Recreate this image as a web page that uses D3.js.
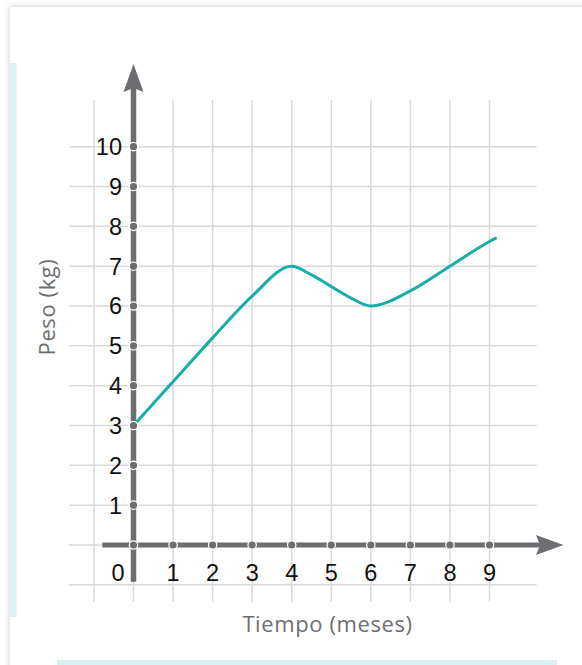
<!DOCTYPE html>
<html>
<head>
<meta charset="utf-8">
<script src="https://cdn.jsdelivr.net/npm/d3@7"></script>
<style>
  html, body { margin: 0; padding: 0; background: #fff; }
  body { width: 582px; height: 665px; overflow: hidden; position: relative; }
  #card { position: absolute; left: 10px; top: 7px; width: 620px; height: 700px; background: #fff;
          box-shadow: 0 0 6px rgba(0,0,0,0.22); }
  svg { position: absolute; left: 0; top: 0; }
</style>
</head>
<body>
<div id="card"></div>
<svg id="chart" width="582" height="665"></svg>
<script>
// Data
const months  = [0, 1, 2, 3, 4, 4.5, 5, 5.5, 6, 7, 8, 9, 9.15];
const weights = [3, 4.1, 5.2, 6.25, 7, 6.78, 6.49, 6.2, 6, 6.38, 7.0, 7.62, 7.7];
const xTicks = [1, 2, 3, 4, 5, 6, 7, 8, 9];
const yTicks = [1, 2, 3, 4, 5, 6, 7, 8, 9, 10];
const xGrid = [-1, 0, 1, 2, 3, 4, 5, 6, 7, 8, 9];
const yGrid = [-1, 0, 1, 2, 3, 4, 5, 6, 7, 8, 9, 10];
const xTitle = "Tiempo (meses)";
const yTitle = "Peso (kg)";

const svg = d3.select("#chart");
const axisColor = "#6d6e71";
const gridColor = "#d9d9d9";
const lineColor = "#17ada8";
const stripColor = "#d8f2f1";

// decorative teal strips
svg.append("rect").attr("x", 10).attr("y", 63).attr("width", 6.5).attr("height", 554).attr("fill", stripColor);
svg.append("rect").attr("x", 57).attr("y", 660).attr("width", 500).attr("height", 6).attr("fill", stripColor);

const x = d3.scaleLinear().domain([0, 9]).range([133.5, 489.5]);
const y = d3.scaleLinear().domain([0, 10]).range([545, 146.7]);

// grid
const g = svg.append("g");
g.selectAll("line.v").data(xGrid).join("line")
  .attr("x1", d => x(d)).attr("x2", d => x(d))
  .attr("y1", 100).attr("y2", 601.7)
  .attr("stroke", gridColor).attr("stroke-width", 1.5);
g.selectAll("line.h").data(yGrid).join("line")
  .attr("y1", d => y(d)).attr("y2", d => y(d))
  .attr("x1", 69).attr("x2", 536.7)
  .attr("stroke", gridColor).attr("stroke-width", 1.5);

// axes
const x0 = x(0), y0 = y(0);
svg.append("line").attr("x1", x0).attr("x2", x0).attr("y1", 581.7).attr("y2", 88)
  .attr("stroke", axisColor).attr("stroke-width", 5.5);
svg.append("path").attr("d", `M${x0},64 L${x0+10},92 L${x0},88 L${x0-10},92 Z`).attr("fill", axisColor);
svg.append("line").attr("x1", 102.3).attr("x2", 540).attr("y1", y0).attr("y2", y0)
  .attr("stroke", axisColor).attr("stroke-width", 5);
svg.append("path").attr("d", `M563.5,${y0} L536,${y0-10} L540,${y0} L536,${y0+10} Z`).attr("fill", axisColor);

// curve
const line = d3.line().x(d => x(d[0])).y(d => y(d[1])).curve(d3.curveMonotoneX);
svg.append("path").datum(months.map((m, i) => [m, weights[i]]))
  .attr("d", line).attr("fill", "none").attr("stroke", lineColor).attr("stroke-width", 3)
  .attr("stroke-linecap", "round");

// dots on axes
svg.selectAll("circle.xd").data([0].concat(xTicks)).join("circle")
  .attr("cx", d => x(d)).attr("cy", y0).attr("r", 4.2)
  .attr("fill", axisColor).attr("stroke", "#fff").attr("stroke-width", 1.2);
svg.selectAll("circle.yd").data(yTicks).join("circle")
  .attr("cx", x0).attr("cy", d => y(d)).attr("r", 4.2)
  .attr("fill", axisColor).attr("stroke", "#fff").attr("stroke-width", 1.2);

// tick labels
const tickFont = "'Liberation Sans', Arial, sans-serif";
svg.selectAll("text.yl").data(yTicks).join("text")
  .attr("x", x0 - 11.5).attr("y", d => y(d)).attr("dy", "0.36em")
  .attr("text-anchor", "end").attr("font-family", tickFont).attr("font-size", 23.5)
  .attr("fill", "#111").text(d => d);
svg.selectAll("text.xl").data(xTicks).join("text")
  .attr("x", d => x(d)).attr("y", 580.5)
  .attr("text-anchor", "middle").attr("font-family", tickFont).attr("font-size", 23.5)
  .attr("fill", "#111").text(d => d);
svg.append("text").attr("x", x0 - 15.5).attr("y", 580.5).attr("text-anchor", "middle")
  .attr("font-family", tickFont).attr("font-size", 23.5).attr("fill", "#111").text("0");

// axis titles
const titleFont = "'Open Sans', 'Noto Sans', sans-serif";
svg.append("text").attr("x", 327.5).attr("y", 632).attr("text-anchor", "middle")
  .attr("font-family", titleFont).attr("font-size", 22).attr("letter-spacing", 0.6)
  .attr("fill", axisColor).text(xTitle);
svg.append("text").attr("transform", "translate(55,307) rotate(-90)").attr("text-anchor", "middle")
  .attr("font-family", titleFont).attr("font-size", 22).attr("letter-spacing", 0.6)
  .attr("fill", axisColor).text(yTitle);
</script>
</body>
</html>
